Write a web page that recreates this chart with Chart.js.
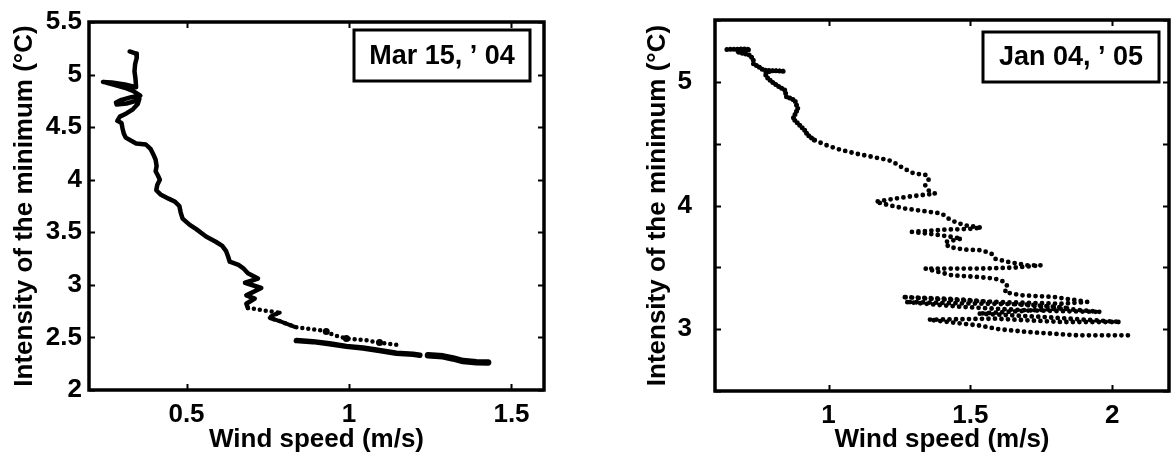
<!DOCTYPE html>
<html><head><meta charset="utf-8">
<script src="https://cdn.jsdelivr.net/npm/chart.js@4/dist/chart.umd.min.js"></script>
<style>
html,body{margin:0;padding:0;background:#fff;width:1172px;height:459px;overflow:hidden}
#cl{position:absolute;left:0;top:0}
#cr{position:absolute;left:600px;top:0}
</style></head><body>
<canvas id="cl" width="600" height="459"></canvas>
<canvas id="cr" width="572" height="459"></canvas>
<script>
// ---------- data ----------
const xTitle = 'Wind speed (m/s)';
const yTitle = 'Intensity of the minimum (°C)';
const labelMar = 'Mar 15, ’ 04';
const labelJan = 'Jan 04, ’ 05';

const xTicksMar = [0.5, 1, 1.5];
const yTicksMar = [2, 2.5, 3, 3.5, 4, 4.5, 5, 5.5];
const xTicksJan = [1, 1.5, 2];
const yTicksJan = [2.5, 3, 3.5, 4, 4.5, 5, 5.5];
const yLabelsJan = [3, 4, 5];

// Mar 15 '04 : continuous dense part of the track
const marTrackSolid = [[0.325,5.22],[0.345,5.20],[0.347,5.16],[0.342,5.10],[0.340,5.03],[0.343,4.96],[0.345,4.88],
 [0.31,4.905],[0.27,4.925],[0.243,4.93],[0.275,4.905],[0.31,4.875],[0.335,4.845],[0.358,4.80],
 [0.33,4.785],[0.30,4.76],[0.283,4.735],[0.285,4.715],[0.315,4.725],[0.345,4.75],[0.355,4.77],
 [0.35,4.72],[0.335,4.67],[0.315,4.63],[0.295,4.60],[0.287,4.56],[0.300,4.54],[0.303,4.49],[0.307,4.44],
 [0.313,4.40],[0.33,4.37],[0.345,4.345],[0.375,4.335],[0.39,4.29],[0.398,4.24],[0.405,4.19],[0.408,4.13],
 [0.405,4.08],[0.412,4.04],[0.418,4.00],[0.410,3.95],[0.407,3.90],[0.42,3.86],[0.445,3.82],[0.465,3.79],
 [0.478,3.75],[0.482,3.69],[0.488,3.63],[0.51,3.57],[0.53,3.53],[0.56,3.46],[0.59,3.41],[0.61,3.37],
 [0.622,3.32],[0.628,3.27],[0.633,3.22],[0.66,3.19],[0.674,3.16],[0.689,3.11],[0.72,3.06],[0.68,3.02],
 [0.73,2.97],[0.684,2.90],[0.71,2.87],[0.684,2.82],[0.689,2.78]];
// Mar 15 '04 : sparse dotted part
const marTrackDotted = [[0.689,2.78],[0.787,2.735],[0.765,2.71],[0.756,2.685],[0.787,2.655],[0.833,2.60],
 [0.93,2.56],[0.95,2.525],[0.992,2.49],[1.05,2.475],[1.094,2.45],[1.146,2.43]];
const marTrackZ = [[0.787,2.735],[0.765,2.71],[0.756,2.685],[0.787,2.655],[0.833,2.60]];
const marClumps = [[0.93,2.557],[0.992,2.49],[1.094,2.452]];
// Mar 15 '04 : lower dense band
const marBand1 = [[0.838,2.47],[0.889,2.46],[0.94,2.44],[0.992,2.415],[1.043,2.40],[1.094,2.375],[1.146,2.35],[1.197,2.34],[1.218,2.33]];
const marBand2 = [[1.243,2.33],[1.289,2.32],[1.32,2.30],[1.351,2.275],[1.392,2.265],[1.428,2.262]];

// Jan 04 '05 : dense upper part
const janTrackDense = [[0.642,5.262],[0.70,5.265],[0.723,5.262],[0.70,5.25],[0.677,5.243],[0.70,5.23],[0.723,5.216],
 [0.735,5.18],[0.735,5.148],[0.755,5.12],[0.770,5.095],[0.80,5.09],[0.846,5.086],[0.80,5.09],[0.775,5.07],
 [0.787,5.027],[0.80,5.00],[0.817,4.973],[0.846,4.933],[0.852,4.879],[0.881,4.852],[0.892,4.784],[0.875,4.703],
 [0.898,4.65],[0.916,4.609],[0.927,4.569],[0.951,4.528]];
// Jan 04 '05 : dotted lower part
const janTrackDotted = [[0.951,4.528],[0.992,4.488],[1.038,4.453],[1.096,4.42],[1.155,4.393],[1.213,4.366],[1.236,4.34],
 [1.265,4.30],[1.30,4.26],[1.347,4.245],[1.353,4.21],[1.341,4.164],[1.353,4.12],[1.376,4.096],[1.294,4.075],
 [1.236,4.056],[1.166,4.03],[1.213,4.002],[1.271,3.975],[1.341,3.953],[1.399,3.935],[1.423,3.894],[1.446,3.867],
 [1.481,3.84],[1.539,3.82],[1.493,3.81],[1.411,3.805],[1.294,3.786],[1.36,3.77],[1.423,3.75],[1.469,3.732],
 [1.411,3.705],[1.423,3.665],[1.481,3.643],[1.539,3.638],[1.574,3.611],[1.586,3.57],[1.632,3.544],[1.702,3.516],
 [1.749,3.516],[1.656,3.498],[1.539,3.49],[1.446,3.49],[1.341,3.49],[1.434,3.436],[1.527,3.422],[1.586,3.409],
 [1.621,3.382],[1.632,3.341],[1.621,3.30],[1.679,3.274],[1.796,3.26],[1.912,3.22],[1.819,3.206],[1.586,3.22],
 [1.353,3.247],[1.259,3.26],[1.469,3.24],[1.702,3.193],[1.959,3.139],[1.702,3.152],[1.469,3.18],[1.271,3.22],
 [1.45,3.21],[1.70,3.20],[1.85,3.17],[1.527,3.126],[1.761,3.098],[2.029,3.058],[1.819,3.058],[1.586,3.085],
 [1.353,3.077],[1.45,3.05],[1.527,3.031],[1.60,3.00],[1.702,2.977],[1.877,2.95],[2.075,2.95]];

// ---------- helpers ----------
const FONT = '"Liberation Sans", Arial, Helvetica, sans-serif';
const pts = arr => arr.map(([x, y]) => ({x, y}));

const framePlugin = {
  id: 'frameBox',
  afterDatasetsDraw(chart, args, o) {
    const {ctx, chartArea: a, scales: {x, y}} = chart;
    ctx.save();
    ctx.strokeStyle = '#000';
    ctx.lineWidth = 2;
    ctx.beginPath();
    x.ticks.forEach(t => {
      const p = Math.round(x.getPixelForValue(t.value)) + 0.5;
      ctx.moveTo(p, a.bottom); ctx.lineTo(p, a.bottom - o.tick);
      ctx.moveTo(p, a.top); ctx.lineTo(p, a.top + o.tick);
    });
    y.ticks.forEach(t => {
      const p = Math.round(y.getPixelForValue(t.value)) + 0.5;
      ctx.moveTo(a.left, p); ctx.lineTo(a.left + o.tick, p);
      ctx.moveTo(a.right, p); ctx.lineTo(a.right - o.tick, p);
    });
    ctx.stroke();
    ctx.lineWidth = 3.5;
    ctx.strokeRect(a.left, a.top, a.right - a.left, a.bottom - a.top);
    const bx = a.right - o.boxRight - o.boxW, by = a.top + o.boxTop;
    ctx.lineWidth = 3;
    ctx.strokeRect(bx, by, o.boxW, o.boxH);
    ctx.fillStyle = '#000';
    ctx.font = 'bold 27px ' + FONT;
    ctx.textAlign = 'center';
    ctx.textBaseline = 'middle';
    ctx.fillText(o.label, bx + o.boxW / 2, by + o.boxH / 2 + 1);
    ctx.restore();
  }
};

function makeChart(id, c) {
  const tickFont = {family: FONT, size: 26, weight: 'bold'};
  const titleFont = {family: FONT, size: 26, weight: 'bold'};
  return new Chart(document.getElementById(id), {
    type: 'scatter',
    data: {datasets: c.datasets},
    options: {
      responsive: false, animation: false, events: [],
      layout: {padding: c.padding},
      plugins: {legend: {display: false}, tooltip: {enabled: false}, frameBox: c.box},
      scales: {
        x: {
          type: 'linear', min: c.xMin, max: c.xMax,
          afterBuildTicks: s => { s.ticks = c.xTicks.map(v => ({value: v})); },
          afterFit: s => { s.height = c.xH; s.paddingLeft = 0; s.paddingRight = 0; },
          grid: {display: false, drawTicks: false}, border: {display: false},
          ticks: {font: tickFont, color: '#000', padding: 9, maxRotation: 0, autoSkip: false, callback: v => String(v)},
          title: {display: true, text: xTitle, font: titleFont, color: '#000', padding: {top: 0, bottom: 4}}
        },
        y: {
          type: 'linear', min: c.yMin, max: c.yMax,
          afterBuildTicks: s => { s.ticks = c.yTicks.map(v => ({value: v})); },
          afterFit: s => { s.width = c.yW; s.paddingTop = 0; s.paddingBottom = 0; },
          grid: {display: false, drawTicks: false}, border: {display: false},
          ticks: {font: tickFont, color: '#000', padding: c.yPad, autoSkip: false, callback: c.yCb},
          title: {display: true, text: yTitle, font: titleFont, color: '#000', padding: {top: c.yTitlePad, bottom: 0}}
        }
      }
    },
    plugins: [framePlugin]
  });
}

function lineDs(data, width, dash) {
  return {data: pts(data), showLine: true, borderColor: '#000', backgroundColor: '#000', borderWidth: width,
    borderDash: dash || [], borderCapStyle: 'round', borderJoinStyle: 'round', pointRadius: 0, tension: 0};
}

makeChart('cl', {
  datasets: [
    lineDs(marTrackSolid, 4.5),
    lineDs(marTrackDotted, 4.5, [0, 6]),
    lineDs(marTrackZ, 4),
    {data: pts(marClumps), showLine: false, pointRadius: 3.5, pointBackgroundColor: '#000', pointBorderWidth: 0},
    lineDs(marBand1, 5.5),
    lineDs(marBand2, 6.5)
  ],
  padding: {left: 0, top: 22, right: 56, bottom: 0},
  xMin: 0.2, xMax: 1.6, yMin: 2, yMax: 5.5,
  xTicks: xTicksMar, yTicks: yTicksMar,
  xH: 69, yW: 89, yPad: 7, yTitlePad: 9,
  yCb: v => String(v),
  box: {tick: 6, boxRight: 14, boxTop: 8, boxW: 176, boxH: 51, label: labelMar}
});

makeChart('cr', {
  datasets: [
    lineDs(janTrackDense, 5, [0, 3.5]),
    lineDs(janTrackDotted, 4.8, [0, 6.5])
  ],
  padding: {left: 0, top: 20, right: 3, bottom: 0},
  xMin: 0.6, xMax: 2.2, yMin: 2.5, yMax: 5.5,
  xTicks: xTicksJan, yTicks: yTicksJan,
  xH: 68, yW: 115, yPad: 23, yTitlePad: 42,
  yCb: v => yLabelsJan.includes(v) ? String(v) : '',
  box: {tick: 6, boxRight: 10, boxTop: 12, boxW: 176, boxH: 50, label: labelJan}
});
</script>
</body></html>
